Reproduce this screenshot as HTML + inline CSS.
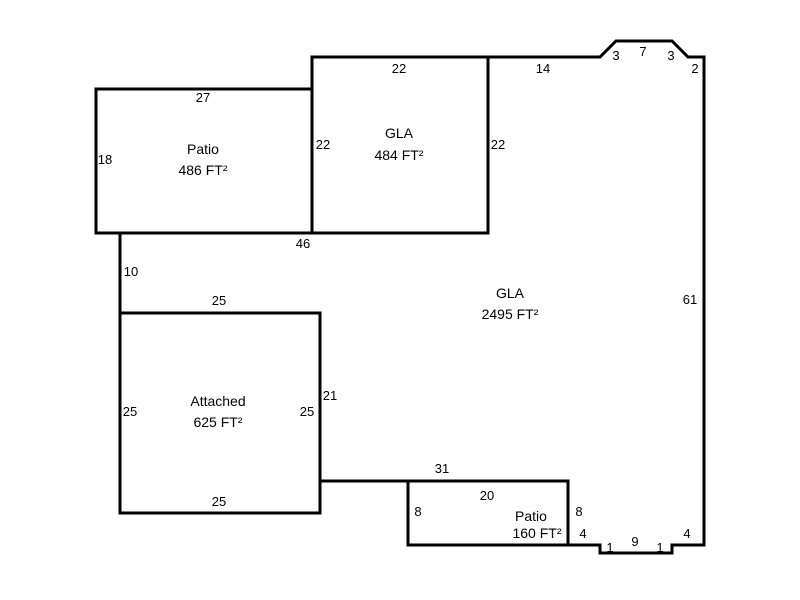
<!DOCTYPE html>
<html><head><meta charset="utf-8"><style>
html,body{margin:0;padding:0;background:#fff;}
svg{display:block;}
text{font-family:"Liberation Sans",Arial,sans-serif;font-size:13px;fill:#000;text-anchor:middle;}
text.a{font-size:14px;}
</style></head><body>
<svg width="800" height="600" viewBox="0 0 800 600">
<g fill="none" stroke="#000" stroke-width="3" stroke-linecap="square">
<rect x="96" y="89" width="216" height="144"/>
<rect x="312" y="57" width="176" height="176"/>
<rect x="120" y="313" width="200" height="200"/>
<rect x="408" y="481" width="160" height="64"/>
<polyline points="488,57 600,57 616,41 672,41 688,57 704,57 704,545 672,545 672,553 600,553 600,545 568,545"/>
<polyline points="120,233 120,313"/>
<polyline points="320,481 408,481"/>
</g>
<text x="203" y="102">27</text>
<text x="105" y="164">18</text>
<text class="a" x="203" y="154">Patio</text>
<text class="a" x="203" y="175">486 FT²</text>
<text x="399" y="73">22</text>
<text x="323" y="149">22</text>
<text class="a" x="399" y="138">GLA</text>
<text class="a" x="399" y="160">484 FT²</text>
<text x="498" y="149">22</text>
<text x="543" y="73">14</text>
<text x="616" y="60">3</text>
<text x="643" y="56">7</text>
<text x="671" y="60">3</text>
<text x="695" y="73">2</text>
<text x="303" y="248">46</text>
<text x="131" y="276">10</text>
<text x="219" y="305">25</text>
<text class="a" x="510" y="298">GLA</text>
<text class="a" x="510" y="319">2495 FT²</text>
<text x="690" y="304">61</text>
<text x="130" y="416">25</text>
<text class="a" x="218" y="406">Attached</text>
<text class="a" x="218" y="427">625 FT²</text>
<text x="307" y="416">25</text>
<text x="330" y="400">21</text>
<text x="219" y="506">25</text>
<text x="442" y="473">31</text>
<text x="487" y="500">20</text>
<text x="418" y="516">8</text>
<text class="a" x="531" y="521">Patio</text>
<text class="a" x="537" y="538">160 FT²</text>
<text x="579" y="516">8</text>
<text x="583" y="538">4</text>
<text x="610" y="552">1</text>
<text x="635" y="546">9</text>
<text x="660" y="552">1</text>
<text x="687" y="538">4</text>
</svg>
</body></html>
